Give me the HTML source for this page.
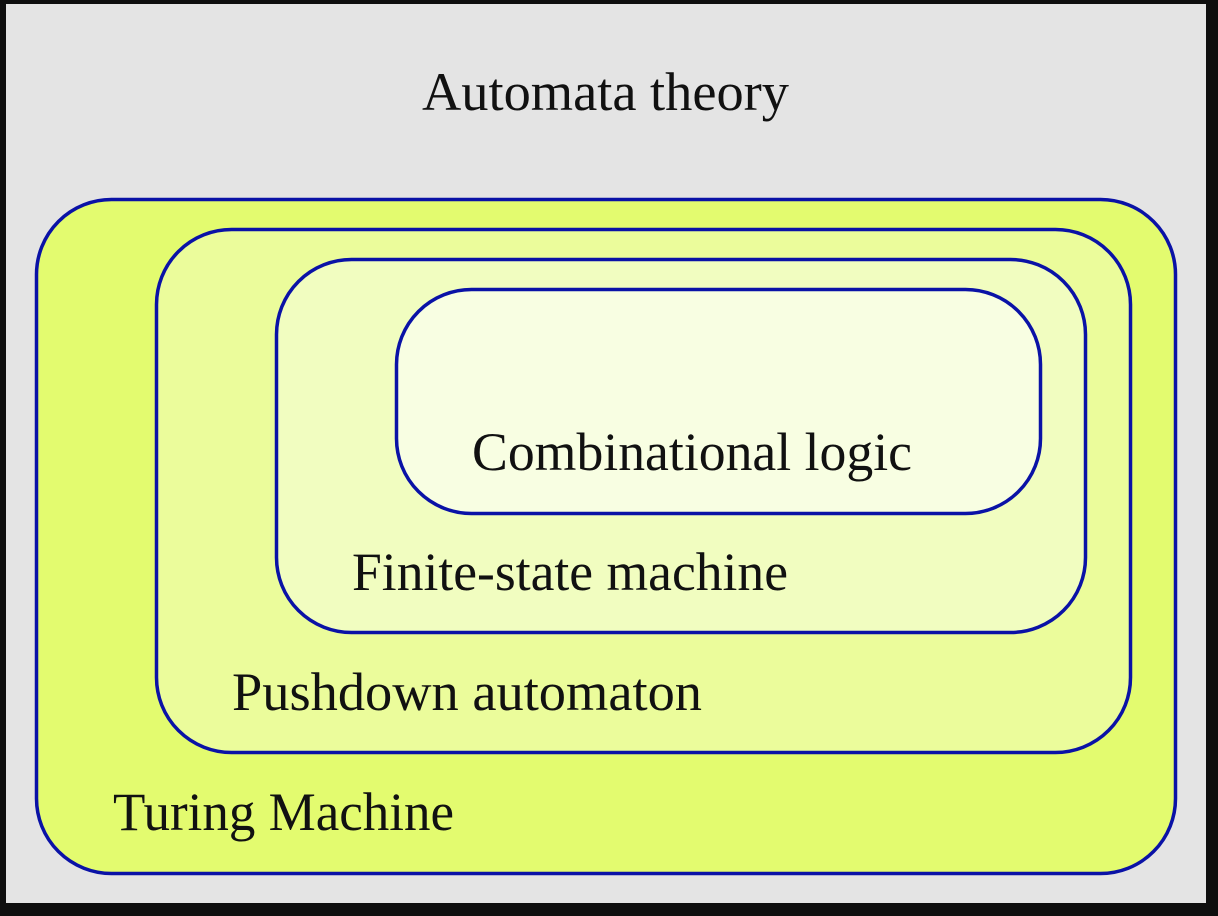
<!DOCTYPE html>
<html><head><meta charset="utf-8"><style>
html,body{margin:0;padding:0;background:#0e0e0e;}
svg{display:block}
text{font-family:"Liberation Serif",serif;font-size:53.5px;fill:#111;}
</style></head><body>
<svg width="1218" height="916" viewBox="0 0 1218 916">
<rect x="0" y="0" width="1218" height="916" fill="#0e0e0e"/>
<rect x="6" y="4" width="1200" height="899" fill="#e4e4e4"/>
<text x="422" y="110" textLength="367" lengthAdjust="spacingAndGlyphs">Automata theory</text>
<rect x="36.5" y="199.5" width="1139" height="674" rx="75" fill="#e3fb6f" stroke="#0a12a6" stroke-width="3.5"/>
<rect x="156.5" y="229.5" width="974" height="523" rx="75" fill="#ebfc9b" stroke="#0a12a6" stroke-width="3.5"/>
<rect x="276.5" y="259.5" width="809" height="373" rx="75" fill="#f1fdc0" stroke="#0a12a6" stroke-width="3.5"/>
<rect x="396.5" y="289.5" width="644" height="224" rx="75" fill="#f8fee2" stroke="#0a12a6" stroke-width="3.5"/>
<text x="472" y="470" textLength="440" lengthAdjust="spacingAndGlyphs">Combinational logic</text>
<text x="352" y="590" textLength="436" lengthAdjust="spacingAndGlyphs">Finite-state machine</text>
<text x="232" y="710" textLength="470" lengthAdjust="spacingAndGlyphs">Pushdown automaton</text>
<text x="113" y="830" textLength="341" lengthAdjust="spacingAndGlyphs">Turing Machine</text>
</svg>
</body></html>
